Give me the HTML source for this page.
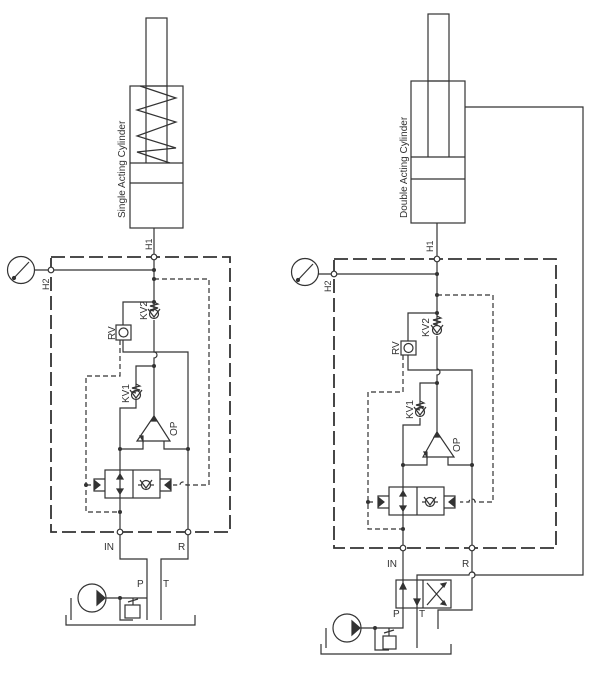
<!DOCTYPE html>
<html><head><style>html,body{margin:0;background:#fff}svg{display:block}</style></head><body>
<svg width="611" height="694" viewBox="0 0 611 694" xmlns="http://www.w3.org/2000/svg" font-family="Liberation Sans, sans-serif" fill="none" stroke="#333" stroke-width="1.2">
<defs>
<g id="chk"><circle r="4.5"/><path d="M-6,-5 L0,3 L6,-5"/></g>
<g id="node"><circle r="2" fill="#333" stroke="none"/></g>
<g id="open"><circle r="2.8" fill="#fff"/></g>
</defs>

<!-- ===== LEFT ===== -->
<rect x="146" y="18" width="21" height="68"/>
<rect x="130" y="86" width="53" height="142"/>
<line x1="130" y1="163" x2="183" y2="163"/><line x1="130" y1="183" x2="183" y2="183"/>
<line x1="146" y1="86" x2="146" y2="163"/><line x1="167" y1="86" x2="167" y2="163"/>
<polyline points="140,86 176,98 137,110 176,122 137,136 176,148 137,152 170,163"/>
<text x="0" y="0" transform="translate(125,218) rotate(-90)" font-size="10" fill="#333" stroke="none">Single Acting Cylinder</text>
<line x1="154" y1="228" x2="154" y2="257"/>
<text transform="translate(152,250) rotate(-90)" font-size="9" fill="#333" stroke="none">H1</text>
<rect x="51" y="257" width="179" height="275" stroke-width="1.8" stroke-dasharray="14,5"/>
<circle cx="21" cy="270" r="13.5"/><line x1="13" y1="279" x2="29" y2="262"/><circle cx="14" cy="278" r="1.5" fill="#333"/>
<line x1="34" y1="270" x2="154" y2="270"/>
<text transform="translate(49,290) rotate(-90)" font-size="9" fill="#333" stroke="none">H2</text>
<path d="M154,257 V309 M154,320 V352 a3,3 0 0 1 0,6 V416"/>
<path d="M154,279 H209 V485 H186 a3,3 0 0 0 -6,0 H173" stroke-dasharray="5,3"/>
<use href="#chk" x="154" y="314"/><path d="M154,302 l4,2 -8,2 8,2 -8,2 4,1"/>
<text transform="translate(147,320) rotate(-90)" font-size="10" fill="#333" stroke="none">KV2</text>
<path d="M154,302 H123 V325 M123,340 V352 H188 V532"/>
<rect x="116" y="325" width="15" height="15"/><circle cx="123.5" cy="332.5" r="4.5"/>
<text transform="translate(115,340) rotate(-90)" font-size="10" fill="#333" stroke="none">RV</text>
<path d="M154,366 H136 V389 M136,400 V408 H120 V532"/>
<use href="#chk" x="136" y="395"/><path d="M136,384 l4,2 -8,2 8,2 -8,2 4,1"/>
<text transform="translate(129,403) rotate(-90)" font-size="10" fill="#333" stroke="none">KV1</text>
<path d="M154,416 L137,441 H170 Z"/><path d="M154,416 l-3,5 h6z M143,441 l-3,-5 3,0z" fill="#333"/>
<path d="M143,441 V449 H120 M164,441 V449 H188"/>
<text transform="translate(177,436) rotate(-90)" font-size="10" fill="#333" stroke="none">OP</text>
<path d="M120,340 V376 H86 V512 H120 M86,485 H92" stroke-dasharray="5,3"/>
<rect x="105" y="470" width="55" height="28" fill="#fff"/><line x1="133" y1="470" x2="133" y2="498"/>
<line x1="120" y1="470" x2="120" y2="498"/><path d="M120,474 l-3,5 h6z M120,494 l-3,-5 h6z" fill="#333"/>
<circle cx="146" cy="485" r="4.5"/><path d="M140,480 L146,488 L152,480"/><line x1="138" y1="485" x2="141" y2="485"/><line x1="151" y1="485" x2="154" y2="485"/>
<path d="M105,479 H94 V491 H105 M160,479 H171 V491 H160"/><path d="M95,481 l5,4 -5,4z M170,481 l-5,4 5,4z" fill="#333"/>
<use href="#node" x="154" y="270"/><use href="#node" x="154" y="279"/><use href="#node" x="154" y="302"/><use href="#node" x="154" y="366"/>
<use href="#node" x="120" y="449"/><use href="#node" x="188" y="449"/><use href="#node" x="120" y="512"/><use href="#node" x="86" y="485"/>
<use href="#open" x="154" y="257"/><use href="#open" x="51" y="270"/><use href="#open" x="120" y="532"/><use href="#open" x="188" y="532"/>
<text x="104" y="550" font-size="10" fill="#333" stroke="none">IN</text><text x="178" y="550" font-size="10" fill="#333" stroke="none">R</text>
<path d="M120,535 V559 H147 V620 M188,535 V559 H161 V620"/>
<text x="137" y="587" font-size="10" fill="#333" stroke="none">P</text><text x="163" y="587" font-size="10" fill="#333" stroke="none">T</text>
<circle cx="92" cy="598" r="14"/><path d="M97,591 l8,7 -8,7z" fill="#333"/>
<path d="M106,598 H147 M71,598 V620 M66,615 V625 H195 V615"/><use href="#node" x="120" y="598"/>
<rect x="125" y="605" width="15" height="13"/><path d="M120,598 V620 H133 M133,598 V605 M128,602 l10,-3" />

<!-- ===== RIGHT ===== -->
<rect x="428" y="14" width="21" height="67"/>
<rect x="411" y="81" width="54" height="142"/>
<line x1="411" y1="157" x2="465" y2="157"/><line x1="411" y1="179" x2="465" y2="179"/>
<line x1="428" y1="81" x2="428" y2="157"/><line x1="449" y1="81" x2="449" y2="157"/>
<text transform="translate(407,218) rotate(-90)" font-size="10" fill="#333" stroke="none">Double Acting Cylinder</text>
<path d="M465,107 H583 V575 H475 a3,3 0 0 0 -6,0 H417 V648"/>
<path d="M417,595 l-3,-5 h6z" fill="#333" stroke="none" transform="translate(0,8)"/>
<line x1="437" y1="223" x2="437" y2="259"/>
<text transform="translate(433,252) rotate(-90)" font-size="9" fill="#333" stroke="none">H1</text>
<rect x="334" y="259" width="222" height="289" stroke-width="1.8" stroke-dasharray="14,5"/>
<circle cx="305" cy="272" r="13.5"/><line x1="297" y1="281" x2="313" y2="264"/><circle cx="298" cy="280" r="1.5" fill="#333"/>
<line x1="318" y1="274" x2="437" y2="274"/>
<text transform="translate(331,292) rotate(-90)" font-size="9" fill="#333" stroke="none">H2</text>
<path d="M437,259 V325 M437,336 V369 a3,3 0 0 1 0,6 V432"/>
<path d="M437,295 H493 V502 H475 a3,3 0 0 0 -6,0 H460" stroke-dasharray="5,3"/>
<use href="#chk" x="437" y="330"/><path d="M437,316 l4,2 -8,2 8,2 -8,2 4,1"/>
<text transform="translate(429,337) rotate(-90)" font-size="10" fill="#333" stroke="none">KV2</text>
<path d="M437,313 H408 V341 M408,355 V370 H472 V548"/>
<rect x="401" y="341" width="15" height="14"/><circle cx="408.5" cy="348" r="4.5"/>
<text transform="translate(399,355) rotate(-90)" font-size="10" fill="#333" stroke="none">RV</text>
<path d="M437,383 H420 V407 M420,418 V425 H403 V548"/>
<use href="#chk" x="420" y="412"/><path d="M420,401 l4,2 -8,2 8,2 -8,2 4,1"/>
<text transform="translate(413,419) rotate(-90)" font-size="10" fill="#333" stroke="none">KV1</text>
<path d="M437,432 L423,457 H454 Z"/><path d="M437,432 l-3,5 h6z M427,457 l-3,-5 3,0z" fill="#333"/>
<path d="M427,457 V465 H403 M448,457 V465 H472"/>
<text transform="translate(460,452) rotate(-90)" font-size="10" fill="#333" stroke="none">OP</text>
<path d="M403,355 V392 H368 V529 H403 M368,502 H375" stroke-dasharray="5,3"/>
<rect x="389" y="487" width="55" height="28" fill="#fff"/><line x1="417" y1="487" x2="417" y2="515"/>
<line x1="403" y1="487" x2="403" y2="515"/><path d="M403,491 l-3,5 h6z M403,511 l-3,-5 h6z" fill="#333"/>
<circle cx="430" cy="502" r="4.5"/><path d="M424,497 L430,505 L436,497"/><line x1="422" y1="502" x2="425" y2="502"/><line x1="435" y1="502" x2="438" y2="502"/>
<path d="M389,496 H378 V508 H389 M444,496 H455 V508 H444"/><path d="M379,498 l5,4 -5,4z M454,498 l-5,4 5,4z" fill="#333"/>
<use href="#node" x="437" y="274"/><use href="#node" x="437" y="295"/><use href="#node" x="437" y="313"/><use href="#node" x="437" y="383"/>
<use href="#node" x="403" y="465"/><use href="#node" x="472" y="465"/><use href="#node" x="403" y="529"/><use href="#node" x="368" y="502"/>
<use href="#open" x="437" y="259"/><use href="#open" x="334" y="274"/><use href="#open" x="403" y="548"/><use href="#open" x="472" y="548"/>
<text x="387" y="567" font-size="10" fill="#333" stroke="none">IN</text><text x="462" y="567" font-size="10" fill="#333" stroke="none">R</text>
<path d="M403,551 V628 H361 M472,551 V572 a3,3 0 0 1 0,6 V610 H438 V629 M326,628 V648 M321,644 V654 H451 V644"/>
<rect x="396" y="580" width="55" height="28" fill="#fff"/><line x1="423" y1="580" x2="423" y2="608"/>
<line x1="403" y1="580" x2="403" y2="608"/><line x1="417" y1="580" x2="417" y2="608"/>
<path d="M403,583 l-3,6 h6z M417,605 l-3,-6 h6z" fill="#333"/>
<path d="M427,583 L446,605 M446,583 L427,605"/><path d="M446,583 l-5,1 3,3z M446,605 l-5,-1 3,-3z" fill="#333"/>
<text x="393" y="617" font-size="10" fill="#333" stroke="none">P</text><text x="419" y="617" font-size="10" fill="#333" stroke="none">T</text>
<circle cx="347" cy="628" r="14"/><path d="M352,621 l8,7 -8,7z" fill="#333"/>
<use href="#node" x="375" y="628"/>
<rect x="383" y="636" width="13" height="13"/><path d="M375,628 V650 H389 M389,628 V636 M384,633 l10,-3"/>
</svg>
</body></html>
